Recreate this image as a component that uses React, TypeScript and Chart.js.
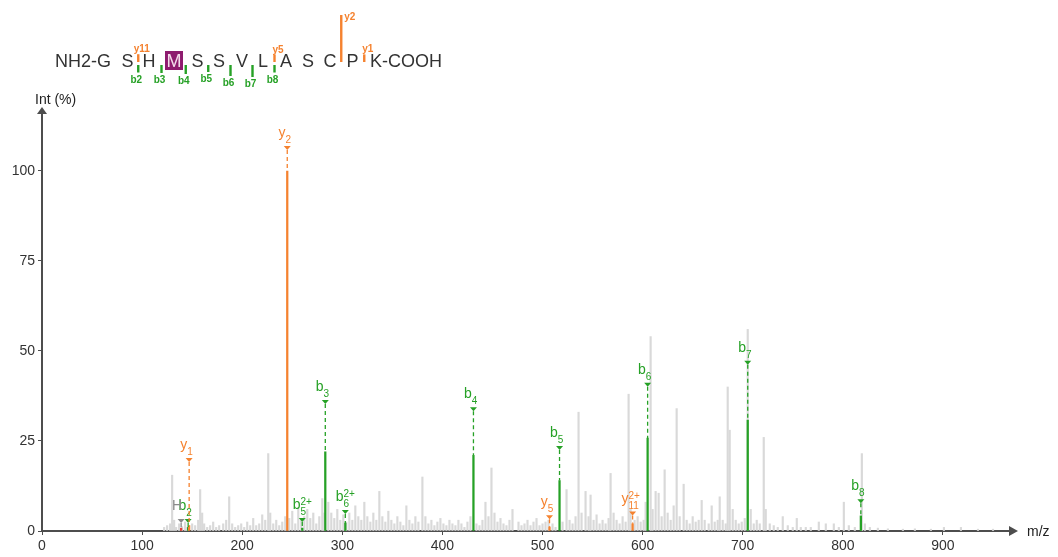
import React, { useEffect, useRef } from 'react';
import { Chart, registerables } from 'chart.js';

Chart.register(...registerables);

const FONT = "'Liberation Sans', Arial, Helvetica, sans-serif";

// ---- axes ----
const xTickValues = [0, 100, 200, 300, 400, 500, 600, 700, 800, 900];
const yTickValues = [0, 25, 50, 75, 100];
const xMax = 967;
const yMax = 116.1;

// ---- unassigned spectrum peaks [m/z, relative intensity %] ----
const grayPeaks: [number, number][] = [
  [122, 1], [125, 1.5], [128, 2], [130, 15.5], [132, 3], [134, 1], [137, 2], [140, 1.2], [143, 2.5], [145, 1],
  [150, 2], [153, 1.5], [156, 3], [158, 11.5], [160, 5], [162, 2], [165, 1], [168, 1.5], [171, 2.5], [174, 1],
  [177, 1.5], [181, 2], [184, 3], [187, 9.5], [190, 2], [193, 1], [196, 1.5], [199, 2], [202, 1], [205, 2.5],
  [208, 1.5], [211, 3.5], [214, 1.5], [217, 2], [220, 4.5], [223, 3], [226, 21.5], [228, 5], [231, 2], [234, 3],
  [237, 1.5], [240, 2.5], [243, 4], [247, 3.5], [250, 5.5], [253, 2], [256, 6.5], [259, 3], [262, 4], [265, 6],
  [268, 3.5], [271, 5], [274, 2], [277, 4], [280, 9], [282, 5], [286, 8], [289, 5], [292, 3.5], [295, 6],
  [298, 3], [301, 4.5], [304, 2.5], [307, 5], [310, 3], [313, 7], [316, 4], [319, 3], [322, 8], [325, 4],
  [328, 2.5], [331, 5], [334, 3], [337, 11], [340, 4], [343, 2.5], [346, 5.5], [349, 3], [352, 2], [355, 4],
  [358, 2.5], [361, 1.5], [364, 7], [367, 3], [370, 2], [373, 4], [376, 2.5], [380, 15], [383, 4], [386, 2],
  [389, 3], [392, 1.5], [395, 2.5], [398, 3.5], [401, 2], [404, 1.5], [407, 3], [410, 2], [413, 1.5], [416, 3],
  [419, 2], [422, 1], [425, 2.5], [428, 4], [434, 2], [437, 1.5], [440, 3], [443, 8], [446, 4], [449, 17.5],
  [452, 5], [455, 2.5], [458, 3.5], [461, 2], [464, 1.5], [467, 3], [470, 6], [476, 2.5], [479, 1.5], [482, 2],
  [485, 3], [488, 1.5], [491, 2.5], [494, 3.5], [497, 1.5], [500, 2], [503, 2.5], [506, 3], [510, 2], [513, 1],
  [520, 2.5], [524, 11.5], [527, 3], [530, 2], [533, 4], [536, 33], [539, 5], [543, 11], [546, 4], [548, 10],
  [551, 3], [554, 4.5], [557, 2], [560, 3], [563, 2], [566, 3.5], [568, 16], [571, 5], [574, 3], [577, 2],
  [580, 4], [583, 2.5], [586, 38], [588, 6], [592, 3], [595, 4], [598, 2.5], [601, 3], [603, 8], [608, 54],
  [610, 6], [613, 11], [616, 10.5], [619, 4], [622, 17], [625, 5], [628, 3], [631, 7], [634, 34], [637, 4],
  [641, 13], [644, 3], [647, 2], [650, 4], [653, 2.5], [656, 3], [659, 8.5], [662, 3], [666, 2], [669, 7],
  [672, 2.5], [675, 3], [677, 9.5], [680, 3], [683, 2], [685, 40], [687, 28], [690, 6], [693, 3], [696, 2],
  [699, 2.5], [702, 3.5], [705, 56], [708, 6], [711, 2], [714, 3], [717, 2], [721, 26], [723, 6], [727, 2],
  [731, 1.5], [735, 1], [740, 4], [745, 1.5], [750, 1], [754, 3.5], [758, 1], [763, 1], [768, 1], [776, 2.5],
  [783, 2], [791, 2], [796, 1], [801, 8], [806, 1.5], [812, 1], [819, 21.5], [822, 2], [827, 1], [835, 0.8],
  [845, 0.6], [860, 0.5], [872, 0.6], [888, 0.5], [901, 1], [918, 1], [935, 0.5], [950, 0.5],
];

// ---- annotated fragment ions ----
const ionBase = ['b', 'H', 'y', 'y', 'b', 'b', 'b', 'b', 'y', 'b', 'y', 'b', 'b', 'b'];
const ionSub = ['2', '', '1', '2', '5', '3', '6', '4', '5', '5', '11', '6', '7', '8'];
const ionSup = ['', '', '', '', '2+', '', '2+', '', '', '', '2+', '', '', ''];
const ionMz = [146, 139, 147, 245, 260, 283, 303, 431, 507, 517, 590, 605, 705, 818];
const ionInt = [1, 0.8, 1.5, 100, 0.8, 22, 2.2, 21, 1.1, 14, 2, 25.8, 30.8, 4.2];
const ionLevel = [3.3, 3.3, 20.3, 106.9, 3.6, 36.4, 5.8, 34.4, 4.4, 23.6, 5.4, 41.2, 47.3, 8.8];

// ---- peptide sequence ----
const residues = ['G', 'S', 'H', 'M', 'S', 'S', 'V', 'L', 'A', 'S', 'C', 'P', 'K'];
const modifiedIndex = 3;
const seqBIons = [2, 3, 4, 5, 6, 7, 8];
const seqYIons = [11, 5, 2, 1];
const seqYIntensity = [2, 1.1, 100, 1.5];

// ---- layout / styles (not data) ----
const GREEN = '#26a126';
const ORANGE = '#f5822f';
const GRAY_PEAK = '#d9d9d9';
const AXIS = '#4d4d4d';
const BAR_COLOR: Record<string, string> = { b: GREEN, y: ORANGE, H: '#e0403a' };
const LABEL_COLOR: Record<string, string> = { b: GREEN, y: ORANGE, H: '#8a8a8a' };
const SEQ = {
  centers: [104, 127.5, 149, 174, 197.5, 219, 242, 263, 286, 308, 330, 352.5, 376],
  nTermX: 55,
  cTermX: 370,
  baseline: 67,
  bTickTop: 65,
  bTickLen: [7.5, 8, 9, 7, 11, 12, 7.5],
  yTickBottom: 62,
};

const overlayPlugin = {
  id: 'msOverlay',
  afterDatasetsDraw(chart: any) {
    const { ctx } = chart;
    const xs = chart.scales.x;
    const ys = chart.scales.y;
    ctx.save();
    ionMz.forEach((mz, i) => {
      const base = ionBase[i];
      const px = xs.getPixelForValue(mz);
      const pTop = ys.getPixelForValue(ionInt[i]);
      const pLvl = ys.getPixelForValue(ionLevel[i]);
      const lcol = LABEL_COLOR[base];
      if (pTop > pLvl + 4) {
        ctx.strokeStyle = base === 'H' ? lcol : BAR_COLOR[base];
        ctx.lineWidth = 1.3;
        ctx.setLineDash([4, 3]);
        ctx.beginPath();
        ctx.moveTo(px, pLvl + 4);
        ctx.lineTo(px, pTop);
        ctx.stroke();
        ctx.setLineDash([]);
      }
      ctx.fillStyle = lcol;
      ctx.beginPath();
      ctx.moveTo(px - 3.5, pLvl);
      ctx.lineTo(px + 3.5, pLvl);
      ctx.lineTo(px, pLvl + 4);
      ctx.closePath();
      ctx.fill();
      ctx.font = `10px ${FONT}`;
      const subW = ctx.measureText(ionSub[i]).width;
      const sx = px - subW / 2 + 1;
      ctx.textAlign = 'left';
      ctx.textBaseline = 'alphabetic';
      if (ionSub[i]) ctx.fillText(ionSub[i], sx, pLvl - 3);
      if (ionSup[i]) ctx.fillText(ionSup[i], sx, pLvl - 13);
      ctx.font = `14px ${FONT}`;
      ctx.textAlign = 'right';
      ctx.fillText(base, sx, pLvl - 9);
    });
    ctx.restore();
  },
  afterDraw(chart: any) {
    const { ctx, chartArea } = chart;
    ctx.save();
    // y arrow
    ctx.fillStyle = AXIS;
    ctx.beginPath();
    ctx.moveTo(chartArea.left, chartArea.top - 6);
    ctx.lineTo(chartArea.left - 5, chartArea.top + 1);
    ctx.lineTo(chartArea.left + 5, chartArea.top + 1);
    ctx.closePath();
    ctx.fill();
    // x arrow
    ctx.beginPath();
    ctx.moveTo(chartArea.right + 8, chartArea.bottom);
    ctx.lineTo(chartArea.right - 1, chartArea.bottom - 5);
    ctx.lineTo(chartArea.right - 1, chartArea.bottom + 5);
    ctx.closePath();
    ctx.fill();
    // axis titles
    ctx.fillStyle = '#222';
    ctx.font = `14px ${FONT}`;
    ctx.textAlign = 'left';
    ctx.textBaseline = 'alphabetic';
    ctx.fillText('Int (%)', 35, chartArea.top - 9);
    ctx.fillText('m/z', chartArea.right + 17, chartArea.bottom + 5);

    // sequence
    const c = SEQ.centers;
    ctx.font = `18px ${FONT}`;
    ctx.fillStyle = '#333';
    ctx.textAlign = 'left';
    ctx.fillText('NH2-' + residues[0], SEQ.nTermX, SEQ.baseline);
    ctx.fillText(residues[residues.length - 1] + '-COOH', SEQ.cTermX, SEQ.baseline);
    ctx.textAlign = 'center';
    for (let i = 1; i < residues.length - 1; i++) {
      if (i === modifiedIndex) {
        ctx.fillStyle = '#8e1b6e';
        ctx.fillRect(c[i] - 9, 51, 18, 19);
        ctx.fillStyle = '#f3dcea';
        ctx.fillText(residues[i], c[i], SEQ.baseline);
        ctx.fillStyle = '#333';
      } else {
        ctx.fillText(residues[i], c[i], SEQ.baseline);
      }
    }
    // b ion cuts
    ctx.font = `bold 10px ${FONT}`;
    seqBIons.forEach((n, k) => {
      const cx = (c[n - 1] + c[n]) / 2;
      const len = SEQ.bTickLen[k];
      ctx.fillStyle = GREEN;
      ctx.fillRect(cx - 1.2, SEQ.bTickTop, 2.4, len);
      ctx.textAlign = 'center';
      ctx.fillText('b' + n, cx - 2, SEQ.bTickTop + len + 10);
    });
    // y ion cuts
    seqYIons.forEach((n, k) => {
      const cut = residues.length - n;
      const cx = (c[cut - 1] + c[cut]) / 2;
      const len = 7 + 0.4 * seqYIntensity[k];
      const top = SEQ.yTickBottom - len;
      ctx.fillStyle = ORANGE;
      ctx.fillRect(cx - 1.2, top, 2.4, len);
      if (len > 20) {
        ctx.textAlign = 'left';
        ctx.fillText('y' + n, cx + 3, top + 5);
      } else {
        ctx.textAlign = 'center';
        ctx.fillText('y' + n, cx + 3.5, top - 2);
      }
    });
    ctx.restore();
  },
};

export default function App() {
  const ref = useRef<HTMLCanvasElement | null>(null);
  useEffect(() => {
    if (!ref.current) return;
    const chart = new Chart(ref.current, {
      type: 'bar',
      data: {
        datasets: [
          {
            label: 'annotated',
            data: ionMz.map((m, i) => ({ x: m, y: ionInt[i] })),
            backgroundColor: ionBase.map((b) => BAR_COLOR[b]),
            barThickness: 1.6,
            grouped: false,
            order: 0,
          } as any,
          {
            label: 'spectrum',
            data: grayPeaks.map(([m, v]) => ({ x: m, y: v })),
            backgroundColor: GRAY_PEAK,
            barThickness: 1.5,
            grouped: false,
            order: 1,
          } as any,
        ],
      },
      options: {
        animation: false,
        responsive: false,
        maintainAspectRatio: false,
        devicePixelRatio: 1,
        layout: { padding: { top: 113, right: 48, left: 0, bottom: 0 } },
        plugins: { legend: { display: false }, tooltip: { enabled: false } },
        scales: {
          x: {
            type: 'linear',
            min: 0,
            max: xMax,
            offset: false,
            afterBuildTicks: (s: any) => {
              s.ticks = xTickValues.map((v) => ({ value: v }));
            },
            afterFit: (s: any) => {
              s.height = 26;
            },
            ticks: { font: { family: FONT, size: 14 }, color: '#333', padding: 3, maxRotation: 0, autoSkip: false },
            grid: { offset: false, drawOnChartArea: false, drawTicks: true, tickLength: 4, color: AXIS, lineWidth: 1 },
            border: { color: AXIS, width: 2 },
          },
          y: {
            type: 'linear',
            min: 0,
            max: yMax,
            afterBuildTicks: (s: any) => {
              s.ticks = yTickValues.map((v) => ({ value: v }));
            },
            afterFit: (s: any) => {
              s.width = 42;
            },
            ticks: { font: { family: FONT, size: 14 }, color: '#333', padding: 3, autoSkip: false },
            grid: { offset: false, drawOnChartArea: false, drawTicks: true, tickLength: 4, color: AXIS, lineWidth: 1 },
            border: { color: AXIS, width: 2 },
          },
        },
      } as any,
      plugins: [overlayPlugin],
    });
    return () => chart.destroy();
  }, []);
  return (
    <div style={{ position: 'fixed', left: 0, top: 0, width: 1058, height: 557, background: '#fff' }}>
      <canvas ref={ref} width={1058} height={557} style={{ width: 1058, height: 557, display: 'block' }} />
    </div>
  );
}
